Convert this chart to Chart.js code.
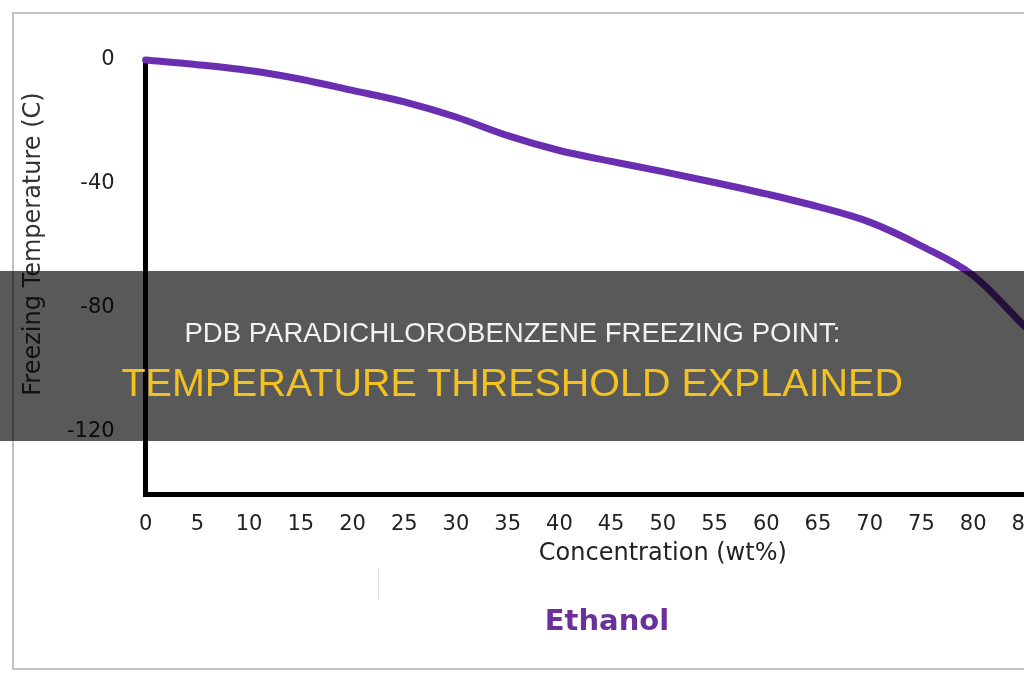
<!DOCTYPE html>
<html>
<head>
<meta charset="utf-8">
<script src="https://cdn.jsdelivr.net/npm/chart.js@4.4.1/dist/chart.umd.min.js"></script>
<style>
    html, body {
        margin: 0;
        padding: 0;
        width: 1024px;
        height: 680px;
        overflow: hidden;
        background: #fff;
        font-family: "DejaVu Sans", Verdana, sans-serif;
    }
    #frame {
        position: absolute;
        left: 12px;
        top: 12px;
        width: 1100px;
        height: 654px;
        border: 2px solid #c4bdca;
    }
    #chart-box {
        position: absolute;
        left: 0;
        top: 0;
        width: 1240px;
        height: 680px;
    }
    #chart-title {
        position: absolute;
        left: 457px;
        top: 606px;
        width: 300px;
        text-align: center;
        font: bold 29px/1 "DejaVu Sans", Verdana, sans-serif;
        color: #6b3099;
    }
    #tick-mark {
        position: absolute;
        left: 378px;
        top: 568px;
        width: 1px;
        height: 32px;
        background: #dedede;
    }
    #banner {
        position: absolute;
        left: 0;
        top: 271px;
        width: 1024px;
        height: 170px;
        background: rgba(0, 0, 0, 0.65);
    }
    .banner-line {
        position: absolute;
        left: 0;
        width: 1024px;
        text-align: center;
        font-family: "Liberation Sans", Arial, sans-serif;
        line-height: 1;
        white-space: nowrap;
    }
    .banner-line span {
        display: inline-block;
        transform-origin: center center;
    }
    #line1 { top: 48px; font-size: 28px; color: #f2f2f2; }
    #line2 { top: 93px; font-size: 38px; color: #f4c21e; }
</style>
</head>
<body>
<div id="frame"></div>
<div id="chart-box"><canvas id="freezing"></canvas></div>
<div id="tick-mark"></div>
<div id="chart-title">Ethanol</div>
<div id="banner">
    <div class="banner-line" id="line1"><span data-w="656">PDB PARADICHLOROBENZENE FREEZING POINT:</span></div>
    <div class="banner-line" id="line2"><span data-w="781">TEMPERATURE THRESHOLD EXPLAINED</span></div>
</div>
<script>
// concentration of ethanol in wt%, every 5 %
const concentration = [0, 5, 10, 15, 20, 25, 30, 35, 40, 45, 50, 55, 60, 65, 70, 75, 80, 85];
// freezing temperature in C
const freezingTemp = [0, -1.5, -3.4, -6.2, -9.8, -13.5, -18.4, -24.4, -29.2, -32.7, -36, -39.5, -43.2, -47.3, -52.3, -60, -69.5, -86];
const yTicks = [0, -40, -80, -120];

const lineColor = '#6a2eb0';
const textColor = '#222';

// y title is not centred on the axis in the original, so draw it by hand
const yTitlePlugin = {
    id: 'yTitle',
    afterDraw(chart) {
        const ctx = chart.ctx;
        ctx.save();
        ctx.translate(34, 244);
        ctx.rotate(-Math.PI / 2);
        ctx.font = '24px "DejaVu Sans", Verdana, sans-serif';
        ctx.fillStyle = '#333';
        ctx.textAlign = 'center';
        ctx.textBaseline = 'middle';
        ctx.fillText('Freezing Temperature (C)', 0, 0);
        ctx.restore();
    }
};

const points = concentration.map((c, i) => ({ x: c, y: freezingTemp[i] }));

const ctx = document.getElementById('freezing').getContext('2d');
new Chart(ctx, {
    type: 'line',
    data: {
        datasets: [{
            label: 'Ethanol',
            data: points,
            borderColor: lineColor,
            borderWidth: 7,
            pointRadius: 0,
            cubicInterpolationMode: 'monotone',
            borderCapStyle: 'round',
            borderJoinStyle: 'round',
            clip: false
        }]
    },
    options: {
        responsive: true,
        maintainAspectRatio: false,
        animation: false,
        layout: {
            padding: { left: 36, top: 60, right: 60, bottom: 112 }
        },
        plugins: {
            legend: { display: false },
            tooltip: { enabled: false }
        },
        scales: {
            x: {
                type: 'linear',
                min: 0,
                max: 100,
                grid: { display: false, drawTicks: false },
                border: { display: true, color: '#000', width: 5 },
                ticks: {
                    stepSize: 5,
                    padding: 18,
                    color: textColor,
                    maxRotation: 0,
                    autoSkip: false,
                    font: { family: '"DejaVu Sans", Verdana, sans-serif', size: 21 }
                },
                title: {
                    display: true,
                    text: 'Concentration (wt%)',
                    color: textColor,
                    padding: { top: -16, bottom: 0 },
                    font: { family: '"DejaVu Sans", Verdana, sans-serif', size: 24 }
                }
            },
            y: {
                type: 'linear',
                min: -140,
                max: 0,
                grid: { display: false, drawTicks: false },
                border: { display: true, color: '#000', width: 5 },
                afterBuildTicks: function (scale) {
                    scale.ticks = yTicks.map(v => ({ value: v }));
                },
                ticks: {
                    padding: 31,
                    color: textColor,
                    font: { family: '"DejaVu Sans", Verdana, sans-serif', size: 21 }
                }
            }
        }
    },
    plugins: [yTitlePlugin]
});

// squeeze the banner text to the width of the original
document.querySelectorAll('.banner-line span').forEach(function (span) {
    const target = parseFloat(span.dataset.w);
    const scale = target / span.offsetWidth;
    span.style.transform = 'scaleX(' + scale + ')';
});
</script>
</body>
</html>
